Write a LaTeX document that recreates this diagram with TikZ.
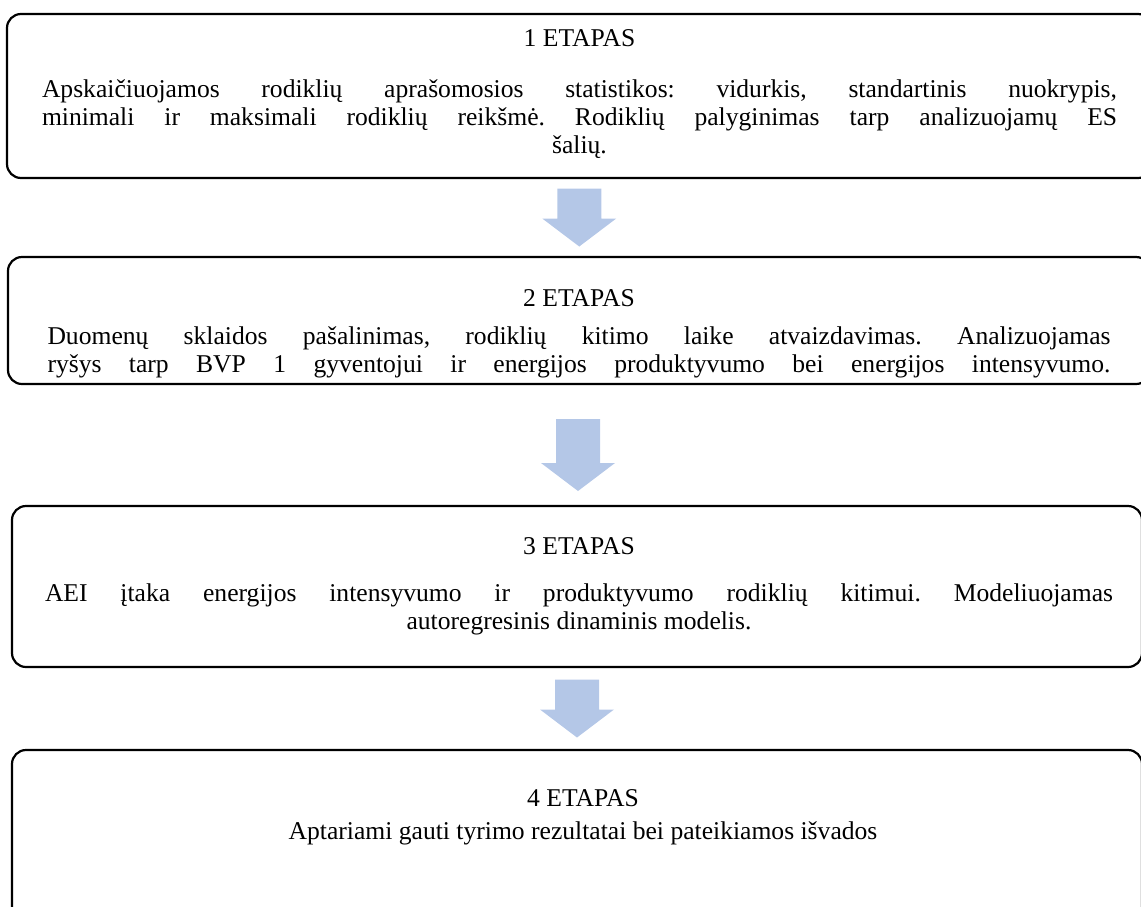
\documentclass[tikz,border=0pt]{standalone}
\usepackage{fontspec}
\setmainfont{Liberation Serif}
\usetikzlibrary{fit,calc}

\definecolor{arrowfill}{HTML}{B4C7E7}
\tikzset{
  stagebox/.style={draw, rectangle, rounded corners=7pt, line width=1.1pt, inner sep=0pt},
  stagetext/.style={anchor=north, align=center, inner sep=0pt, font=\fontsize{12.8}{14}\selectfont\frenchspacing},
}
% block arrow between two boxes: #3 = top, #4 = tip (from the middle of the gap)
\newcommand{\stagearrow}[4]{%
  \path ($(#1.south)!0.5!(#2.north)$) coordinate (m);
  \fill[arrowfill] ($(m)+(-22,#3)$) -- ($(m)+(22,#3)$) -- ($(m)+(22,#4-28)$) -- ($(m)+(37,#4-28)$)
    -- ($(m)+(0,#4)$) -- ($(m)+(-37,#4-28)$) -- ($(m)+(-22,#4-28)$) -- cycle;}
% one justified line
\newcommand{\jline}[2]{\makebox[#1][s]{#2}}

\begin{document}
\begin{tikzpicture}[x=0.5pt,y=-0.5pt]
\useasboundingbox (0,0) rectangle (1141,906);
\clip (0,0) rectangle (1141,906);

\node[stagebox, fit={(7,14) (1152,178)}] (s1) {};
\node[stagebox, fit={(8,257) (1150,384)}] (s2) {};
\node[stagebox, fit={(12,506) (1142,667)}] (s3) {};
\node[stagebox, fit={(12,750) (1142,925)}] (s4) {};

\node[stagetext] (t1) at (579.5,29) {1 ETAPAS\\[11.5pt]
\jline{537.5pt}{Apskaičiuojamos rodiklių aprašomosios statistikos: vidurkis, standartinis nuokrypis,}\\
\jline{537.5pt}{minimali ir maksimali rodiklių reikšmė. Rodiklių palyginimas tarp analizuojamų ES}\\
šalių.};
\node[stagetext] (t2) at (579,289) {2 ETAPAS\\[5pt]
\jline{531.5pt}{Duomenų sklaidos pašalinimas, rodiklių kitimo laike atvaizdavimas. Analizuojamas}\\
\jline{531.5pt}{ryšys tarp BVP 1 gyventojui ir energijos produktyvumo bei energijos intensyvumo.}};
\node[stagetext] (t3) at (579,537) {3 ETAPAS\\[9.5pt]
\jline{534pt}{AEI įtaka energijos intensyvumo ir produktyvumo rodiklių kitimui. Modeliuojamas}\\
autoregresinis dinaminis modelis.};
\node[stagetext] (t4) at (583,789) {4 ETAPAS\\[2.5pt]
Aptariami gauti tyrimo rezultatai bei pateikiamos išvados};

\stagearrow{s1}{s2}{-29}{29}
\stagearrow{s2}{s3}{-26}{46}
\stagearrow{s3}{s4}{-29}{29}
\end{tikzpicture}
\end{document}
